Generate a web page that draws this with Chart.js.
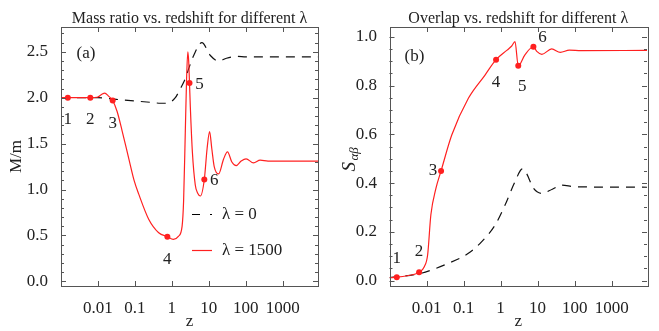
<!DOCTYPE html>
<html>
<head>
<meta charset="utf-8">
<script src="https://cdn.jsdelivr.net/npm/chart.js@4.4.0/dist/chart.umd.min.js"></script>
<style>
  body { margin: 0; background: #fff; }
  #wrap { position: relative; width: 659px; height: 331px; }
  canvas { position: absolute; left: 0; top: 0; }
</style>
</head>
<body>
<div id="wrap">
  <canvas id="massChart" width="659" height="331"></canvas>
  <canvas id="overlapChart" width="659" height="331"></canvas>
</div>
<script>
// ---- panel (a): mass ratio ----
const zMassL0 = [0.001, 0.01, 0.0195, 0.05, 0.26, 0.5, 0.74, 1.24, 1.7, 2.1, 3.9, 6.5, 11, 18.4, 30, 60, 100, 9000];
const massL0 = [2.0, 2.0, 1.99, 1.975, 1.95, 1.94, 1.94, 2.0, 2.1, 2.17, 2.46, 2.6, 2.46, 2.4, 2.43, 2.45, 2.445, 2.445];

const zMassL1500 = [0.001, 0.00153, 0.0062, 0.0095, 0.0125, 0.0153, 0.019, 0.025, 0.033, 0.045, 0.068, 0.095, 0.127,
  0.236, 0.44, 0.755, 1.1, 1.5, 1.89, 2.08, 2.3, 2.5, 2.7, 2.85, 3.0, 3.16, 3.6, 4.3, 5.0, 5.9, 7.55, 9, 10.5,
  12, 14, 18.4, 25, 32, 42, 55, 75, 102, 162, 245, 400, 9000];
const massL1500 = [2.0, 2.0, 2.0, 2.005, 2.035, 2.05, 2.02, 1.97, 1.85, 1.64, 1.34, 1.1, 0.95,
  0.677, 0.53, 0.487, 0.458, 0.49, 0.60, 0.88, 1.6, 2.2, 2.5, 2.4, 2.16, 1.9, 1.4, 1.05, 0.96, 0.93, 1.11, 1.45, 1.63,
  1.45, 1.25, 1.17, 1.33, 1.41, 1.3, 1.26, 1.31, 1.335, 1.29, 1.32, 1.31, 1.31];

const zMassPts = [0.00153, 0.0062, 0.025, 0.755, 3.0, 7.55];
const massPts = [2.0, 2.0, 1.97, 0.487, 2.16, 1.11];

// ---- panel (b): overlap ----
const zOverL0 = [0.001, 0.007, 0.039, 0.135, 0.31, 0.71, 1.32, 2.45, 3.9, 5, 7.7, 13, 25, 45, 100, 9000];
const overL0 = [0.012, 0.03, 0.071, 0.112, 0.16, 0.228, 0.31, 0.406, 0.458, 0.44, 0.379, 0.358, 0.375, 0.392, 0.385, 0.383];

const zOverL1500 = [0.001, 0.00157, 0.003, 0.0063, 0.0087, 0.0107, 0.0131, 0.018, 0.0247, 0.048, 0.135, 0.38,
  0.755, 1.5, 2.0, 2.45, 3.0, 4.5, 7.7, 9.5, 13, 24, 41, 72, 150, 9000];
const overL1500 = [0.012, 0.014, 0.02, 0.034, 0.057, 0.105, 0.27, 0.379, 0.45, 0.597, 0.748, 0.843,
  0.906, 0.945, 0.962, 0.98, 0.881, 0.925, 0.959, 0.94, 0.928, 0.95, 0.936, 0.945, 0.943, 0.944];

const zOverPts = [0.00157, 0.0063, 0.0247, 0.755, 3.0, 7.7];
const overPts = [0.014, 0.034, 0.45, 0.906, 0.881, 0.959];

// ---- ticks / labels ----
const xTickVals = [0.01, 0.1, 1, 10, 100, 1000];
const xTickLabels = ["0.01", "0.1", "1", "10", "100", "1000"];
const massTickVals = [0, 0.5, 1.0, 1.5, 2.0, 2.5];
const massTickLabels = ["0.0", "0.5", "1.0", "1.5", "2.0", "2.5"];
const overTickVals = [0, 0.2, 0.4, 0.6, 0.8, 1.0];
const overTickLabels = ["0.0", "0.2", "0.4", "0.6", "0.8", "1.0"];
const pointLabels = ["1", "2", "3", "4", "5", "6"];
const legendLabels = ["λ = 0", "λ = 1500"];

const SERIF = "'Liberation Serif', 'DejaVu Serif', serif";
const RED = "#ff2020";

function toXY(xs, ys) {
  return xs.map((x, i) => ({ x: x, y: ys[i] }));
}

// frame, inward ticks, titles and annotations
const framePlugin = {
  id: "frame",
  afterDraw(chart, args, o) {
    const ctx = chart.ctx;
    const a = chart.chartArea;
    const x = chart.scales.x, y = chart.scales.y;
    ctx.save();
    ctx.strokeStyle = "#555";
    ctx.lineWidth = 1;
    const seg = (x1, y1, x2, y2) => {
      ctx.beginPath(); ctx.moveTo(x1, y1); ctx.lineTo(x2, y2); ctx.stroke();
    };
    ctx.strokeRect(Math.round(a.left) + 0.5, Math.round(a.top) + 0.5,
      Math.round(a.right - a.left), Math.round(a.bottom - a.top));
    xTickVals.forEach(v => {
      const px = Math.round(x.getPixelForValue(v)) + 0.5;
      seg(px, a.bottom, px, a.bottom - 5);
      seg(px, a.top, px, a.top + 5);
    });
    for (let v = o.yMinorStart; v <= y.max + 1e-9; v += o.yMinorStep) {
      const py = Math.round(y.getPixelForValue(v)) + 0.5;
      const major = Math.abs(v / o.yMajorStep - Math.round(v / o.yMajorStep)) < 1e-6;
      const len = major ? 5 : 3;
      seg(a.left, py, a.left + len, py);
      seg(a.right, py, a.right - len, py);
    }

    ctx.fillStyle = "#222";
    ctx.textAlign = "center";
    ctx.textBaseline = "alphabetic";
    ctx.font = "16px " + SERIF;
    const cx = (a.left + a.right) / 2;
    ctx.fillText(o.title, cx, 23);
    ctx.textBaseline = "middle";
    ctx.font = "17px " + SERIF;
    ctx.fillText("z", cx, 322);
    ctx.fillText(o.tag, o.tagPos[0], o.tagPos[1]);

    // numbered points
    o.ptX.forEach((zv, i) => {
      const px = x.getPixelForValue(zv), py = y.getPixelForValue(o.ptY[i]);
      ctx.fillText(pointLabels[i], px + o.offsets[i][0], py + o.offsets[i][1]);
    });

    // y axis title
    ctx.save();
    ctx.translate(o.yTitleX, (a.top + a.bottom) / 2);
    ctx.rotate(-Math.PI / 2);
    if (o.yTitle === "S") {
      ctx.font = "italic 19px " + SERIF;
      ctx.textAlign = "left";
      ctx.fillText("S", -15, 0);
      ctx.font = "italic 13px " + SERIF;
      ctx.fillText("αβ", -4, 5);
    } else {
      ctx.fillText(o.yTitle, 0, 0);
    }
    ctx.restore();

    // legend
    if (o.legend) {
      ctx.textAlign = "left";
      ctx.font = "17px " + SERIF;
      ctx.lineWidth = 1.2;
      ctx.strokeStyle = "#000";
      ctx.setLineDash([8, 10]);
      seg(192, 214.5, 212, 214.5);
      ctx.setLineDash([]);
      ctx.strokeStyle = RED;
      seg(192, 250.5, 212, 250.5);
      ctx.fillText(legendLabels[0], 222, 215);
      ctx.fillText(legendLabels[1], 222, 251);
    }
    ctx.restore();
  }
};

function makeChart(id, cfg) {
  return new Chart(document.getElementById(id), {
    type: "line",
    data: {
      datasets: [
        {
          data: toXY(cfg.ptX, cfg.ptY),
          showLine: false,
          pointRadius: 3,
          pointBackgroundColor: RED,
          pointBorderWidth: 0,
        },
        {
          data: toXY(cfg.redX, cfg.redY),
          borderColor: RED,
          borderWidth: 1.2,
          pointRadius: 0,
          cubicInterpolationMode: "monotone",
        },
        {
          data: toXY(cfg.blackX, cfg.blackY),
          borderColor: "#111",
          borderWidth: 1.2,
          borderDash: [9, 7],
          pointRadius: 0,
          cubicInterpolationMode: "monotone",
        },
      ],
    },
    options: {
      responsive: false,
      animation: false,
      events: [],
      layout: { padding: cfg.padding },
      plugins: {
        legend: { display: false },
        tooltip: { enabled: false },
        frame: cfg,
      },
      scales: {
        x: {
          type: "logarithmic",
          min: 0.001,
          max: 9000,
          grid: { display: false },
          border: { display: false },
          afterBuildTicks: (s) => { s.ticks = xTickVals.map(v => ({ value: v })); },
          afterFit: (s) => { s.height = 36; },
          ticks: {
            autoSkip: false,
            maxRotation: 0,
            padding: 4,
            color: "#222",
            font: { family: SERIF, size: 17 },
            callback: (v, i) => xTickLabels[i],
          },
        },
        y: {
          type: "linear",
          min: cfg.yMin,
          max: cfg.yMax,
          grid: { display: false },
          border: { display: false },
          afterBuildTicks: (s) => { s.ticks = cfg.yTicks.map(v => ({ value: v })); },
          afterFit: (s) => { s.width = 40; },
          ticks: {
            padding: cfg.yPad,
            color: "#222",
            font: { family: SERIF, size: 17 },
            callback: (v, i) => cfg.yLabels[i],
          },
        },
      },
    },
    plugins: [framePlugin],
  });
}

makeChart("massChart", {
  padding: { left: 21, right: 341, top: 27, bottom: 9 },
  yMin: -0.05, yMax: 2.77,
  yTicks: massTickVals, yLabels: massTickLabels, yPad: 5,
  yMinorStart: 0, yMinorStep: 0.1, yMajorStep: 0.5,
  redX: zMassL1500, redY: massL1500,
  blackX: zMassL0, blackY: massL0,
  ptX: zMassPts, ptY: massPts,
  offsets: [[0, 22], [0, 22], [0, 23], [0, 23], [10, 1.5], [10, 1]],
  title: "Mass ratio vs. redshift for different λ",
  tag: "(a)", tagPos: [86, 54],
  yTitle: "M/m", yTitleX: 17,
  legend: true,
});

makeChart("overlapChart", {
  padding: { left: 349.5, right: 12, top: 27, bottom: 9 },
  yMin: -0.022, yMax: 1.04,
  yTicks: overTickVals, yLabels: overTickLabels, yPad: 4.5,
  yMinorStart: 0, yMinorStep: 0.05, yMajorStep: 0.2,
  redX: zOverL1500, redY: overL1500,
  blackX: zOverL0, blackY: overL0,
  ptX: zOverPts, ptY: overPts,
  offsets: [[0, -19], [0, -20.5], [-8, 0], [0, 23], [4, 21], [9, -9]],
  title: "Overlap vs. redshift for different λ",
  tag: "(b)", tagPos: [414.5, 56.7],
  yTitle: "S", yTitleX: 350,
  legend: false,
});
</script>
</body>
</html>
